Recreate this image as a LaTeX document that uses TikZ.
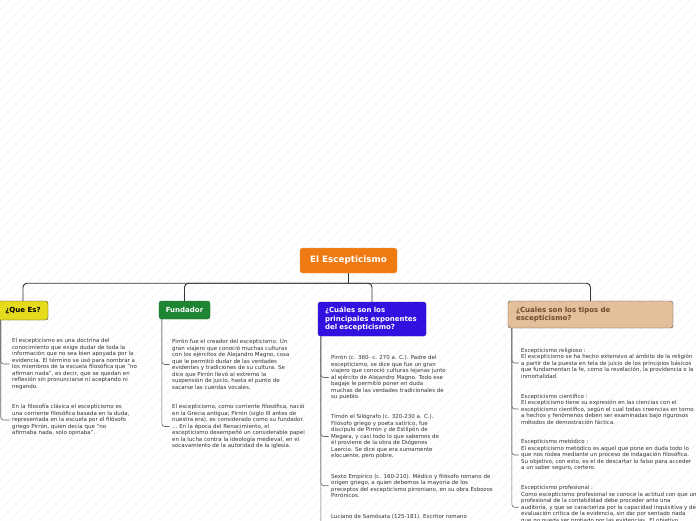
\documentclass[tikz,border=0pt]{standalone}
\usepackage{fontspec}
\setmainfont{DejaVu Sans}
\usetikzlibrary{positioning, calc}
\definecolor{mapOrange}{RGB}{239, 122, 18}
\definecolor{mapYellow}{RGB}{229, 218, 28}
\definecolor{mapGreen}{RGB}{30, 133, 50}
\definecolor{mapBlue}{RGB}{52, 16, 224}
\definecolor{mapTan}{RGB}{229, 190, 154}
\definecolor{mapBrown}{RGB}{110, 75, 45}
\definecolor{mapInk}{RGB}{51, 51, 51}
\definecolor{mapStripe}{RGB}{241, 241, 241}
\tikzset{
  topicNode/.style={
    rounded corners=2.5pt,
    inner sep=0pt,
    font=\fontsize{7}{8.5}\selectfont\bfseries
  },
  rootNode/.style={
    topicNode,
    fill=mapOrange,
    draw=mapOrange!70!white,
    text=white,
    font=\fontsize{8.8}{10}\selectfont\bfseries,
    minimum width=97pt,
    minimum height=25pt
  },
  noteText/.style={
    anchor=west,
    inner sep=0pt,
    align=left,
    text=mapInk,
    font=\fontsize{5.5}{6.5}\selectfont
  },
  branchLink/.style={
    draw=mapInk,
    line width=0.9pt,
    rounded corners=4pt
  },
  noteTrunk/.style={
    draw=black!60,
    line width=0.6pt,
    rounded corners=3pt,
    shorten >=2.5pt
  },
  bgStripe/.style={
    draw=mapStripe,
    line width=0.6pt
  }
}
\begin{document}
\begin{tikzpicture}[x=1pt, y=-1pt]
  \useasboundingbox (0,0) rectangle (696,520);
  \clip (0,0) rectangle (696,520);
  \fill[white] (0,0) rectangle (696,520);
  % background hatching
  \foreach \s in {-520,-510,...,700}
    \draw[bgStripe] (\s,520) -- ++(520,-520);

  % main topic and its branches
  \node[rootNode] (root) at (348.5,260.5) {El Escepticismo};
  \node[topicNode, fill=mapYellow, draw=black!80, text=black, minimum width=50pt, minimum height=19pt] (queEs) at (23,310.5) {¿Que Es?};
  \node[topicNode, fill=mapGreen, draw=mapGreen!80!black, text=white, minimum width=51pt, minimum height=18pt] (fundador) at (184.5,310) {Fundador};
  \node[topicNode, fill=mapBlue, draw=mapBlue!80!black, text=white, text width=94pt, inner xsep=7pt, minimum height=34pt, align=left] (exponentes) at (372,319) {¿Cuáles son los\\principales exponentes\\del escepticismo?};
  \node[topicNode, fill=mapTan, draw=black!70, text=mapBrown, text width=149pt, inner xsep=8pt, minimum height=27pt, align=left] (tipos) at (590.5,314.5) {¿Cuales son los tipos de\\escepticismo?};

  \coordinate (hub) at ([yshift=-10pt]root.south);
  \draw[branchLink] (root.south) -- (hub);
  \foreach \topic in {queEs, fundador, exponentes, tipos}
    \draw[branchLink] (hub) -| (\topic.north);

  % ¿Que Es?
  \node[noteText] (queEsA) at (12,364) {El escepticismo es una doctrina del\\conocimiento que exige dudar de toda la\\información que no sea bien apoyada por la\\evidencia.  El término se usó para nombrar a\\los miembros de la escuela filosófica que "no\\afirman nada", es decir, que se quedan en\\reflexión sin pronunciarse ni aceptando ni\\negando.};
  \node[noteText] (queEsB) at (12,420) {En la filosofía clásica el escepticismo es\\una corriente filosófica basada en la duda,\\representada en la escuela por el filósofo\\griego Pirrón, quien decía que "no\\afirmaba nada, solo opinaba".};

  % Fundador
  \node[noteText] (fundadorA) at (172,364.5) {Pirrón fue el creador del escepticismo. Un\\gran viajero que conoció muchas culturas\\con los ejércitos de Alejandro Magno, cosa\\que le permitió dudar de las verdades\\evidentes y tradiciones de su cultura. Se\\dice que Pirrón llevó al extremo la\\suspensión de juicio, hasta el punto de\\sacarse las cuerdas vocales.};
  \node[noteText] (fundadorB) at (172,426.5) {El escepticismo, como corriente filosófica, nació\\en la Grecia antigua; Pirrón (siglo III antes de\\nuestra era), es considerado como su fundador.\\… En la época del Renacimiento, el\\escepticismo desempeñó un considerable papel\\en la lucha contra la ideología medieval, en el\\socavamiento de la autoridad de la iglesia.};

  % exponentes
  \node[noteText] (exponentesA) at (331,377.5) {Pirrón (c. 360- c. 270 a. C.). Padre del\\escepticismo, se dice que fue un gran\\viajero que conoció culturas lejanas junto\\al ejército de Alejandro Magno. Todo ese\\bagaje le permitió poner en duda\\muchas de las verdades tradicionales de\\su pueblo.};
  \node[noteText] (exponentesB) at (331,436.5) {Timón el Silógrafo (c. 320-230 a. C.).\\Filósofo griego y poeta satírico, fue\\discípulo de Pirrón y de Estilpón de\\Megara, y casi todo lo que sabemos de\\él proviene de la obra de Diógenes\\Laercio. Se dice que era sumamente\\elocuente, pero pobre.};
  \node[noteText] (exponentesC) at (331,485.75) {Sexto Empírico (c. 160-210). Médico y filósofo romano de\\origen griego, a quien debemos la mayoría de los\\preceptos del escepticismo pirroniano, en su obra Esbozos\\Pirrónicos.};
  \node[noteText] (exponentesD) at (331,517) {Luciano de Samósata (125-181). Escritor romano};

  % tipos
  \node[noteText] (tiposA) at (521,363) {Escepticismo religioso :\\El escepticismo se ha hecho extensivo al ámbito de la religión\\a partir de la puesta en tela de juicio de los principios básicos\\que fundamentan la fe, como la revelación, la providencia o la\\inmortalidad.};
  \node[noteText] (tiposB) at (521,409) {Escepticismo científico :\\El escepticismo tiene su expresión en las ciencias con el\\escepticismo científico, según el cual todas creencias en torno\\a hechos y fenómenos deben ser examinadas bajo rigurosos\\métodos de demostración fáctica.};
  \node[noteText] (tiposC) at (521,455) {Escepticismo metódico :\\El escepticismo metódico es aquel que pone en duda todo lo\\que nos rodea mediante un proceso de indagación filosófica.\\Su objetivo, con esto, es el de descartar lo falso para acceder\\a un saber seguro, certero.};
  \node[noteText] (tiposD) at (521,504.25) {Escepticismo profesional :\\Como escepticismo profesional se conoce la actitud con que un\\profesional de la contabilidad debe proceder ante una\\auditoría, y que se caracteriza por la capacidad inquisitiva y de\\evaluación crítica de la evidencia, sin dar por sentado nada\\que no pueda ser probado por las evidencias. El objetivo};

  % trunks to the notes
  \foreach \note in {queEsA, queEsB}
    \draw[noteTrunk] ([xshift=3pt]queEs.south west) |- (\note.west);
  \foreach \note in {fundadorA, fundadorB}
    \draw[noteTrunk] ([xshift=3pt]fundador.south west) |- (\note.west);
  \foreach \note in {exponentesA, exponentesB, exponentesC}
    \draw[noteTrunk] ([xshift=3pt]exponentes.south west) |- (\note.west);
  \draw[noteTrunk] ([xshift=3pt]exponentes.south west) |- ([yshift=-20pt]exponentesD.west);
  \foreach \note in {tiposA, tiposB, tiposC}
    \draw[noteTrunk] ([xshift=4pt]tipos.south west) |- (\note.west);
  \draw[noteTrunk] ([xshift=4pt]tipos.south west) |- ([yshift=-3pt]tiposD.west);
\end{tikzpicture}
\end{document}
